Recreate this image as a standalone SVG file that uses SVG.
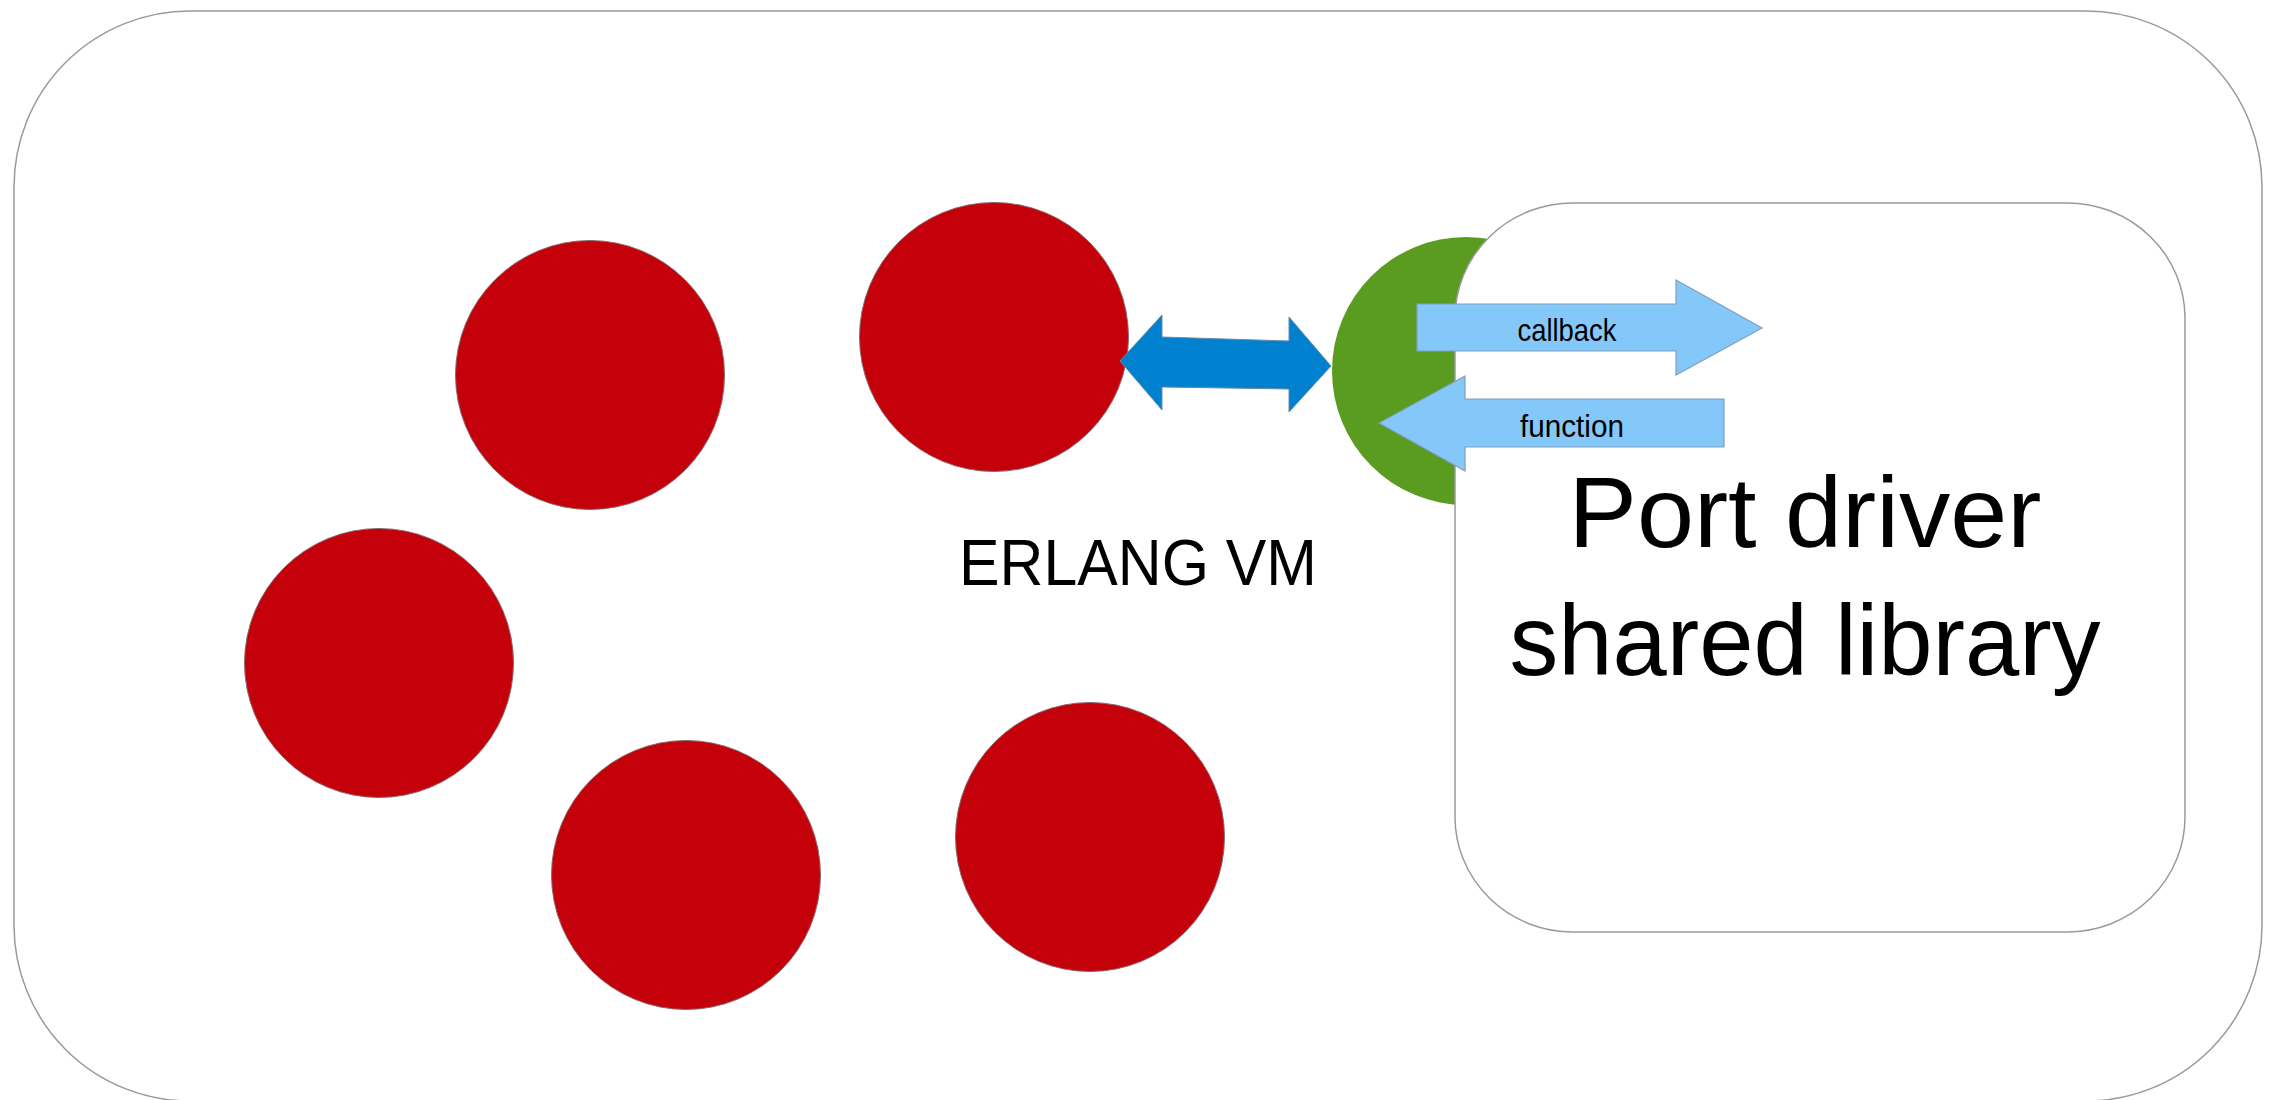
<svg xmlns="http://www.w3.org/2000/svg" width="2269" height="1100" viewBox="0 0 2269 1100">
<style>
.frame{fill:#ffffff;stroke:#9a9a9a;stroke-width:1.5}
.proc{fill:#c4000b;stroke:#8a6a6a;stroke-width:1}
.port{fill:#599c1f}
.lib{fill:#ffffff;stroke:#9a9a9a;stroke-width:1.5}
.dbl{fill:#0081d0;stroke:#6a8aa8;stroke-width:1}
.call{fill:#84c8fa;stroke:#7f9fbf;stroke-width:1.2}
.t{font-family:"Liberation Sans","Lato",sans-serif;fill:#000000}
</style>
<rect width="2269" height="1100" fill="#ffffff"/>
<g id="erlang-vm">
<rect class="frame" x="14" y="11" width="2248" height="1090" rx="176" ry="176"/>
<text class="t" x="959" y="585" font-size="64" textLength="358" lengthAdjust="spacingAndGlyphs">ERLANG VM</text>
</g>
<g id="process-1"><circle class="proc" cx="994" cy="337" r="134.5"/></g>
<g id="process-2"><circle class="proc" cx="590" cy="375" r="134.5"/></g>
<g id="process-3"><circle class="proc" cx="379" cy="663" r="134.5"/></g>
<g id="process-4"><circle class="proc" cx="686" cy="875" r="134.5"/></g>
<g id="process-5"><circle class="proc" cx="1090" cy="837" r="134.5"/></g>
<g id="port"><circle class="port" cx="1466" cy="371" r="134"/></g>
<g id="port-driver">
<rect class="lib" x="1455" y="203" width="730" height="729" rx="118" ry="115"/>
<text class="t" x="1805" y="547" font-size="101" text-anchor="middle" textLength="473" lengthAdjust="spacingAndGlyphs">Port driver</text>
<text class="t" x="1805" y="675" font-size="101" text-anchor="middle" textLength="591" lengthAdjust="spacingAndGlyphs">shared library</text>
</g>
<g id="connectors">
<polygon class="dbl" points="1120,361 1162,315 1162,337 1289,341 1289,317 1331,366 1289,412 1289,389 1162,387 1162,410"/>
<polygon class="call" points="1417,304 1676,304 1676,280 1762,328 1676,375 1676,351 1417,351"/>
<text class="t" x="1567" y="341" font-size="32" text-anchor="middle" textLength="99" lengthAdjust="spacingAndGlyphs">callback</text>
<polygon class="call" points="1379,423 1465,376 1465,399 1724,399 1724,447 1465,447 1465,471"/>
<text class="t" x="1572" y="437" font-size="32" text-anchor="middle" textLength="104" lengthAdjust="spacingAndGlyphs">function</text>
</g>
</svg>
